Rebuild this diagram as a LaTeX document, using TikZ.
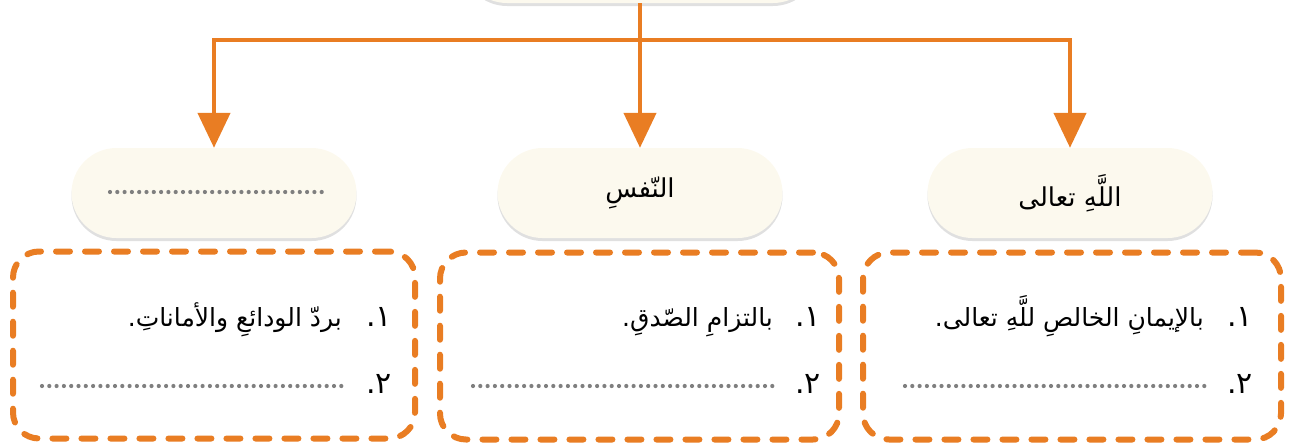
\documentclass[tikz,border=0pt]{standalone}
\usepackage{fontspec}
\newfontfamily\arabicfont[Script=Arabic]{DejaVu Sans}
\TeXXeTstate=1
\usetikzlibrary{arrows.meta, shadows}
\definecolor{brand}{HTML}{E97D23}
\definecolor{cream}{HTML}{FCF9EE}
\definecolor{dotgray}{HTML}{7F7F7F}
\tikzset{
  headbox/.style={rounded corners=45pt, minimum width=285pt, minimum height=90pt,
    fill=cream, inner sep=0pt,
    drop shadow={shadow xshift=0pt, shadow yshift=-3pt, opacity=0.12, fill=black},
    font=\arabicfont\fontsize{26}{30}\selectfont},
  dashbox/.style={draw=brand, line width=6pt, dash pattern=on 14pt off 15pt,
    line cap=round, rounded corners=26pt, minimum height=187pt},
  dotline/.style={draw=dotgray, line width=4.2pt, dash pattern=on 0pt off 7.3pt, line cap=round},
  item/.style={anchor=base east, inner sep=0pt, font=\arabicfont\fontsize{25}{30}\selectfont},
  num/.style={item, font=\arabicfont\fontsize{30}{34}\selectfont},
  link/.style={draw=brand, line width=4.5pt},
}
\begin{document}
\begin{tikzpicture}[x=1pt, y=-1pt]
  %tikz  mappa, tre rami
    \useasboundingbox (0,0) rectangle (1296,445);
    \def\tip{-{Triangle[width=32pt,length=35pt]}}
    \node[headbox, minimum width=356pt] (top) at (640,-42) {};
    \coordinate (fork) at (640,40);
    \node[headbox] (hr) at (1070,193) {\beginR اللَّهِ تعالى\endR};
    \node[headbox] (hc) at (640,193) {\beginR النّفسِ\endR};
    \node[headbox] (hl) at (214,193) {};
    \draw[dotline] (110,192) -- (322,192);
    \draw[link] (top) -- (fork);
    \draw[link, \tip] (fork) -| (hr);
    \draw[link, \tip] (fork) -- (hc);
    \draw[link, \tip] (fork) -| (hl);
    \node[dashbox, minimum width=418pt] (br) at (1072,346) {};
    \node[dashbox, minimum width=399pt] (bc) at (639.5,346) {};
    \node[dashbox, minimum width=402pt] (bl) at (214,345) {};
    \node[num] (r1) at (1253,326) {\beginR ١.\endR};
    \node[item] (r1t) at (1204,326) {\beginR بالإيمانِ الخالصِ للَّهِ تعالى.\endR};
    \node[num] (r2) at (1253,393) {\beginR ٢.\endR};
    \draw[dotline] (905,386) -- (1207,386);
    \node[num] (c1) at (821,326) {\beginR ١.\endR};
    \node[item] (c1t) at (773,326) {\beginR بالتزامِ الصّدقِ.\endR};
    \node[num] (c2) at (821,393) {\beginR ٢.\endR};
    \draw[dotline] (473,386) -- (775,386);
    \node[num] (l1) at (392,326) {\beginR ١.\endR};
    \node[item] (l1t) at (342,326) {\beginR بردّ الودائعِ والأماناتِ.\endR};
    \node[num] (l2) at (392,393) {\beginR ٢.\endR};
    \draw[dotline] (42,386) -- (343,386);
  \end{tikzpicture}
\end{document}
